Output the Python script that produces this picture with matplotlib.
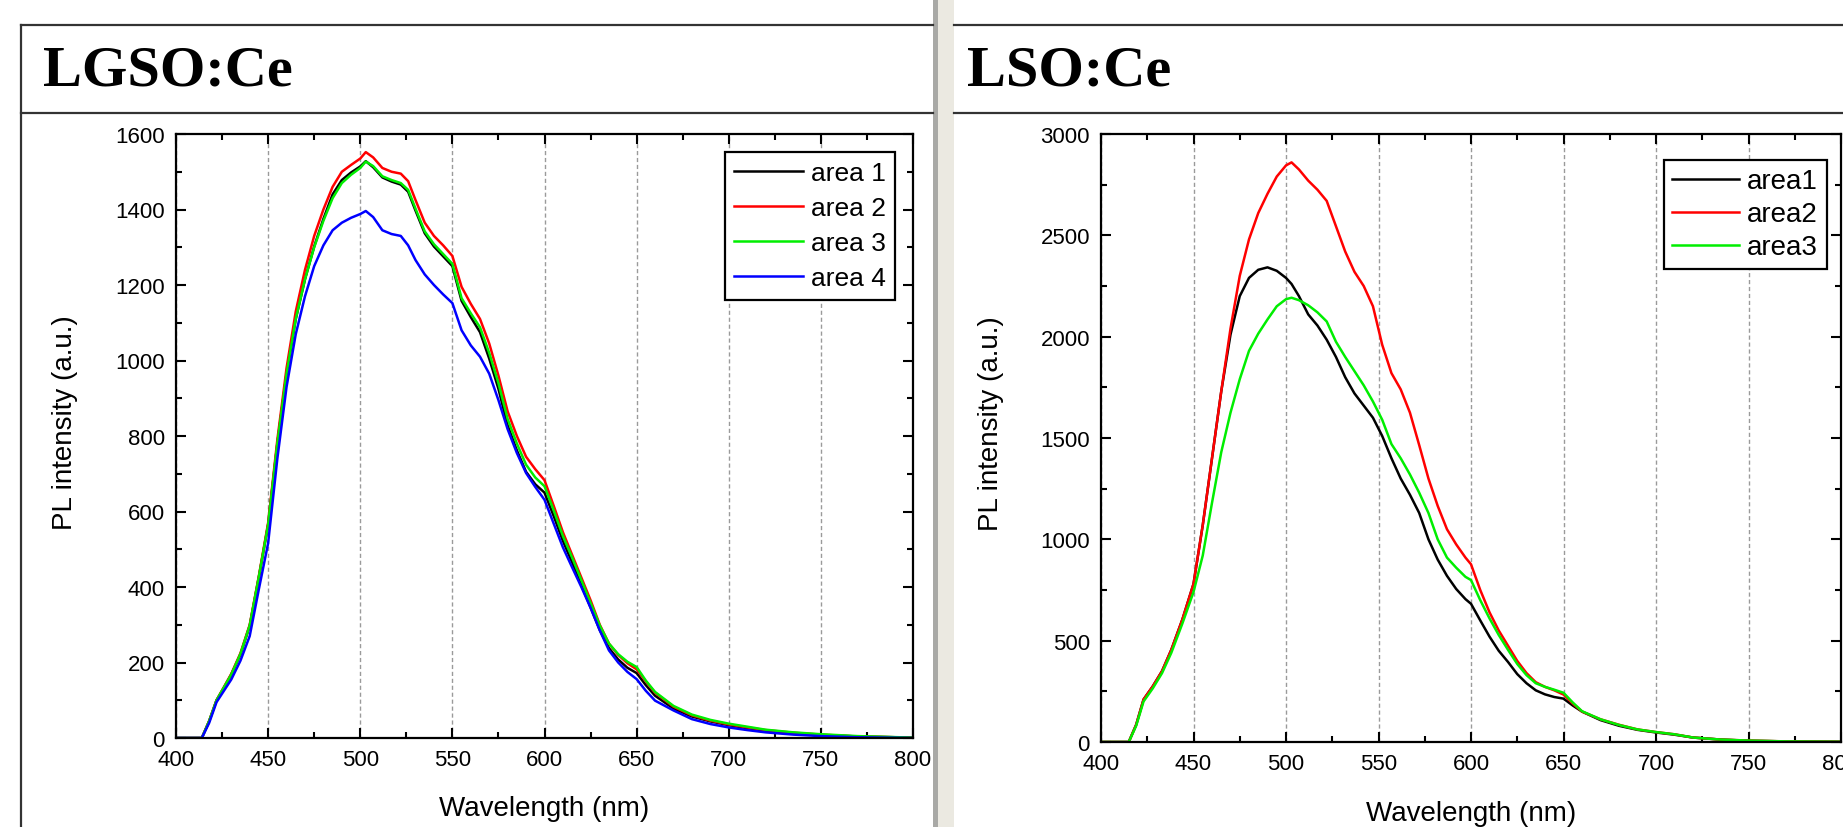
import matplotlib
matplotlib.use("Agg")
import matplotlib.pyplot as plt
from matplotlib.patches import Rectangle
from matplotlib.lines import Line2D
from matplotlib.ticker import MultipleLocator

plt.rcParams['font.family'] = ['Liberation Sans', 'DejaVu Sans']

# ---------------- data: LGSO:Ce ----------------
wl_lgso = [400, 410, 414, 418, 422, 426, 430, 435, 440, 445, 450, 455, 460, 465, 470,
           475, 480, 485, 490, 495, 500, 503, 507, 512, 517, 522, 526, 530, 535, 540,
           545, 550, 555, 560, 565, 570, 575, 580, 585, 590, 595, 600, 605, 610, 615,
           620, 625, 630, 635, 640, 645, 650, 655, 660, 670, 680, 690, 700, 710, 720,
           735, 750, 770, 800]
lgso_area1 = [0, 0, 0, 45, 100, 133, 168, 222, 297, 427, 565, 780, 965, 1110, 1215,
              1302, 1375, 1440, 1478, 1498, 1514, 1528, 1512, 1485, 1474, 1466, 1447, 1397, 1337, 1302,
              1276, 1250, 1158, 1115, 1075, 1005, 925, 828, 762, 705, 672, 650, 588, 522, 465,
              405, 346, 286, 238, 208, 186, 172, 140, 112, 78, 57, 44, 34, 26, 19,
              13, 8, 4, 1]
lgso_area2 = [0, 0, 0, 45, 100, 135, 170, 225, 300, 430, 570, 790, 980, 1130, 1240,
              1330, 1400, 1460, 1500, 1518, 1535, 1552, 1538, 1510, 1500, 1495, 1475, 1425, 1365, 1330,
              1305, 1277, 1195, 1150, 1110, 1045, 960, 865, 800, 745, 712, 683, 615, 545, 485,
              425, 365, 300, 250, 220, 198, 182, 150, 120, 83, 60, 46, 36, 28, 21,
              14, 9, 4, 1]
lgso_area3 = [0, 0, 0, 45, 100, 134, 168, 223, 298, 428, 565, 780, 965, 1110, 1215,
              1300, 1370, 1430, 1470, 1492, 1510, 1527, 1515, 1488, 1478, 1470, 1452, 1402, 1342, 1308,
              1282, 1256, 1165, 1125, 1088, 1020, 940, 845, 780, 724, 690, 667, 603, 535, 478,
              418, 358, 298, 250, 222, 202, 188, 152, 122, 85, 62, 48, 38, 30, 22,
              15, 10, 5, 1]
lgso_area4 = [0, 0, 0, 40, 95, 125, 155, 205, 270, 395, 516, 740, 930, 1070, 1170,
              1250, 1305, 1345, 1365, 1378, 1388, 1396, 1380, 1345, 1335, 1330, 1305, 1266, 1228, 1200,
              1175, 1152, 1080, 1040, 1010, 965, 895, 818, 755, 702, 665, 631, 568, 505, 452,
              400, 345, 285, 232, 200, 175, 156, 125, 99, 73, 50, 37, 28, 21, 15,
              9, 5, 2, 0]
lgso_labels = ["area 1", "area 2", "area 3", "area 4"]

# ---------------- data: LSO:Ce ----------------
wl_lso = [400, 410, 415, 419, 423, 428, 433, 438, 444, 450, 455, 460, 465, 470, 475,
          480, 485, 490, 495, 500, 503, 507, 512, 517, 522, 527, 532, 537, 542, 547,
          552, 557, 562, 567, 572, 577, 582, 587, 592, 597, 600, 605, 610, 615, 620,
          625, 630, 635, 640, 645, 650, 655, 660, 670, 680, 690, 700, 710, 720, 735,
          750, 770, 800]
lso_area1 = [0, 0, 0, 85, 210, 275, 350, 455, 605, 780, 1070, 1400, 1730, 2010, 2200,
             2290, 2330, 2342, 2325, 2290, 2260, 2200, 2110, 2055, 1985, 1900, 1800, 1720, 1660, 1600,
             1510, 1400, 1300, 1220, 1130, 1000, 900, 820, 755, 705, 682, 600, 520, 450, 395,
             335, 290, 255, 235, 222, 214, 180, 150, 108, 80, 60, 47, 36, 22, 12,
             6, 3, 1]
lso_area2 = [0, 0, 0, 85, 210, 275, 350, 455, 605, 780, 1070, 1400, 1730, 2040, 2300,
             2480, 2610, 2705, 2790, 2845, 2860, 2825, 2770, 2725, 2670, 2545, 2420, 2320, 2250, 2150,
             1960, 1820, 1740, 1625, 1465, 1300, 1165, 1050, 975, 910, 877, 750, 640, 550, 475,
             400, 340, 295, 272, 255, 234, 190, 150, 112, 85, 62, 49, 38, 22, 12,
             7, 3, 1]
lso_area3 = [0, 0, 0, 80, 200, 265, 340, 440, 585, 740, 920, 1180, 1430, 1625, 1790,
             1930, 2015, 2085, 2150, 2185, 2192, 2180, 2155, 2120, 2075, 1975, 1900, 1830, 1760, 1680,
             1590, 1470, 1400, 1320, 1230, 1130, 1000, 910, 860, 815, 799, 700, 610, 528, 455,
             385, 330, 290, 272, 258, 243, 195, 152, 112, 84, 62, 49, 38, 22, 12,
             7, 3, 1]
lso_labels = ["area1", "area2", "area3"]

x_ticks = [400, 450, 500, 550, 600, 650, 700, 750, 800]
colors4 = ["#000000", "#FF0000", "#00EE00", "#0000FF"]

W, H = 1843, 828
fig = plt.figure(figsize=(W / 100, H / 100), dpi=100)
fig.patch.set_facecolor("white")


def fx(px):
    return px / W


def fy(py):
    return 1 - py / H


# frame lines & separator
fig.add_artist(Line2D([fx(21), fx(933)], [fy(26), fy(26)], color="#333333", lw=1.6))
fig.add_artist(Line2D([fx(21), fx(933)], [fy(114), fy(114)], color="#333333", lw=1.6))
fig.add_artist(Line2D([fx(954), fx(1843)], [fy(26), fy(26)], color="#333333", lw=1.6))
fig.add_artist(Line2D([fx(954), fx(1843)], [fy(114), fy(114)], color="#333333", lw=1.6))
fig.add_artist(Line2D([fx(21), fx(21)], [fy(26), fy(828)], color="#333333", lw=1.6))
fig.add_artist(Rectangle((fx(938), 0), fx(16), 1, transform=fig.transFigure,
                         facecolor="#EBE9E1", edgecolor="none"))
fig.add_artist(Rectangle((fx(933), 0), fx(5), 1, transform=fig.transFigure,
                         facecolor="#A9A9A6", edgecolor="none"))

fig.text(fx(43), fy(85), "LGSO:Ce", family="Liberation Serif", weight="bold",
         fontsize=42, va="baseline", ha="left")
fig.text(fx(967), fy(85), "LSO:Ce", family="Liberation Serif", weight="bold",
         fontsize=42, va="baseline", ha="left")


def style_axes(ax, ymax, ymajor, yminor):
    ax.set_xlim(400, 800)
    ax.set_ylim(0, ymax)
    ax.set_xticks(x_ticks)
    ax.xaxis.set_minor_locator(MultipleLocator(25))
    ax.yaxis.set_major_locator(MultipleLocator(ymajor))
    ax.yaxis.set_minor_locator(MultipleLocator(yminor))
    ax.tick_params(which="both", direction="in", top=True, right=True, width=1.5,
                   labelsize=16, colors="black")
    ax.tick_params(which="major", length=7, pad=8)
    ax.tick_params(which="minor", length=4.5)
    for s in ax.spines.values():
        s.set_linewidth(1.6)
        s.set_color("black")
    ax.grid(axis="x", which="major", color="#9A9A9A", lw=1.0, ls=(0, (3, 2)))
    ax.set_axisbelow(True)
    ax.set_xlabel("Wavelength (nm)", fontsize=20, va="center")
    ax.set_ylabel("PL intensity (a.u.)", fontsize=20, va="center")
    ax.xaxis.set_label_coords(0.5, -0.116)


# left axes
ax1 = fig.add_axes([fx(176), 1 - 739 / H, (913 - 176) / W, (739 - 135) / H])
for ys, c, lab in zip([lgso_area1, lgso_area2, lgso_area3, lgso_area4], colors4, lgso_labels):
    ax1.plot(wl_lgso, ys, color=c, lw=1.8, label=lab)
style_axes(ax1, 1600, 200, 100)
ax1.yaxis.set_label_coords(-0.1506, 0.523)
leg1 = ax1.legend(loc="upper left", bbox_to_anchor=(fx(725), fy(153)),
                  bbox_transform=fig.transFigure, borderaxespad=0, fontsize=19,
                  handlelength=2.6, handletextpad=0.3, labelspacing=0.42,
                  borderpad=0.35, fancybox=False, framealpha=1, edgecolor="black")
leg1.get_frame().set_linewidth(1.6)

# right axes
ax2 = fig.add_axes([fx(1101), 1 - 743 / H, (1841 - 1101) / W, (743 - 135) / H])
for ys, c, lab in zip([lso_area1, lso_area2, lso_area3], colors4[:3], lso_labels):
    ax2.plot(wl_lso, ys, color=c, lw=1.8, label=lab)
style_axes(ax2, 3000, 500, 250)
ax2.yaxis.set_label_coords(-0.1486, 0.526)
leg2 = ax2.legend(loc="upper left", bbox_to_anchor=(fx(1664), fy(161)),
                  bbox_transform=fig.transFigure, borderaxespad=0, fontsize=20,
                  handlelength=2.4, handletextpad=0.3, labelspacing=0.25,
                  borderpad=0.3, fancybox=False, framealpha=1, edgecolor="black")
leg2.get_frame().set_linewidth(1.6)

fig.savefig("out.png", dpi=100)
